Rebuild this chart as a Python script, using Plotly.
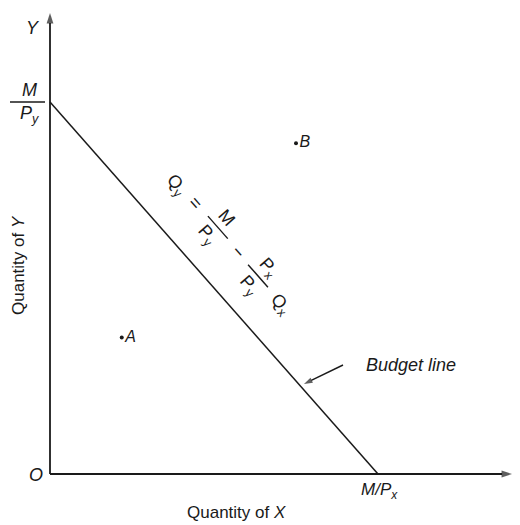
import math
import plotly.graph_objects as go

# budget constraint (income and prices, arbitrary units)
INCOME = 72
PRICE_X = 9
PRICE_Y = 8

QX_MAX = INCOME / PRICE_X   # M/Px
QY_MAX = INCOME / PRICE_Y   # M/Py

BUNDLE_NAMES = ["A", "B"]
BUNDLE_QX = [1.75, 6.0]
BUNDLE_QY = [3.3, 8.0]

budget_qx = [0, QX_MAX]
budget_qy = [QY_MAX - PRICE_X / PRICE_Y * q for q in budget_qx]

W, H = 520, 525
OX, OY = 50, 474     # origin on the page, px
SX = 41.0            # px per unit on x
SY = 41.33           # px per unit on y
FONT = "Liberation Sans, Arial, sans-serif"
INK = "#1a1a1a"


def at(xp, yp):
    # page pixel -> data coords
    return (xp - OX) / SX, (OY - yp) / SY


# direction of the budget line on screen
ANG = math.degrees(math.atan2(QY_MAX * SY, QX_MAX * SX))
UX, UY = math.cos(math.radians(ANG)), math.sin(math.radians(ANG))
TOP_X, TOP_Y = OX, OY - QY_MAX * SY


def along(s, p):
    # s px along the line from its top end, p px to the upper-right side
    return at(TOP_X + s * UX + p * UY, TOP_Y + s * UY - p * UX)


fig = go.Figure()


def arrow(tail, head, width=1.8, size=11):
    fig.add_trace(go.Scatter(
        x=[tail[0], head[0]], y=[tail[1], head[1]], mode="lines+markers",
        line=dict(color=INK, width=width),
        marker=dict(symbol="arrow", angleref="previous", size=[0, size],
                    color=INK, line=dict(width=0)),
        hoverinfo="skip", showlegend=False, cliponaxis=False,
    ))


# axes with arrow heads
arrow((0, 0), at(512, OY))
arrow((0, 0), at(OX, 13))

fig.add_trace(go.Scatter(
    x=budget_qx, y=budget_qy, mode="lines",
    line=dict(color=INK, width=1.5), hoverinfo="skip", showlegend=False,
))
fig.add_trace(go.Scatter(
    x=BUNDLE_QX, y=BUNDLE_QY, mode="markers+text",
    marker=dict(color=INK, size=4),
    text=["<i>" + n + "</i>" for n in BUNDLE_NAMES],
    textposition="middle right",
    textfont=dict(family=FONT, size=16, color=INK),
    showlegend=False, cliponaxis=False,
))

ann = []
shapes = []


def label(xy, text, size=18, angle=0):
    ann.append(dict(x=xy[0], y=xy[1], text=text, showarrow=False,
                    textangle=angle, xanchor="center", yanchor="middle",
                    font=dict(family=FONT, size=size, color=INK)))


def bar(p0, p1, width=1.4):
    shapes.append(dict(type="line", x0=p0[0], y0=p0[1], x1=p1[0], y1=p1[1],
                       line=dict(color=INK, width=width)))


label(at(33, 28), "<i>Y</i>")
label(at(524, 476), "<i>X</i>")
label(at(36, 475), "<i>O</i>")
label(at(29, 90), "<i>M</i>")
label(at(29, 114), "<i>P<sub>y</sub></i>")
bar(at(10, 102), at(45, 102), width=1.6)
label(at(379, 491), "<i>M/P<sub>x</sub></i>", size=17)
label(at(236, 512), "Quantity of <i>X</i>", size=17)
label(at(18, 265), "Quantity of <i>Y</i>", size=17, angle=-90)

label(at(411, 365), "<i>Budget line</i>", size=18)
arrow(at(343, 365), at(304, 384), width=1.4, size=9)

# equation written along the budget line: Qy = M/Py - Px/Py Qx
eq = [
    (146, 40, "Q<sub>y</sub>"),
    (172, 42, "="),
    (204, 56, "M"),
    (204, 29, "P<sub>y</sub>"),
    (237, 42, "\u2212"),
    (269, 54, "P<sub>x</sub>"),
    (269, 27, "P<sub>y</sub>"),
    (305, 39, "Q<sub>x</sub>"),
]
for s, p, t in eq:
    label(along(s, p), t, size=18, angle=ANG)

for s, p in [(205, 43), (268, 41)]:
    bar(along(s - 15, p), along(s + 15, p))

fig.update_layout(
    width=W, height=H,
    margin=dict(l=0, r=0, t=0, b=0),
    paper_bgcolor="white", plot_bgcolor="white",
    xaxis=dict(range=[-OX / SX, (W - OX) / SX], visible=False, fixedrange=True),
    yaxis=dict(range=[-(H - OY) / SY, OY / SY], visible=False, fixedrange=True),
    annotations=ann,
    shapes=shapes,
    showlegend=False,
)

fig.write_html("out.html", config={"displayModeBar": False},
               post_script="document.body.style.margin='0';")
